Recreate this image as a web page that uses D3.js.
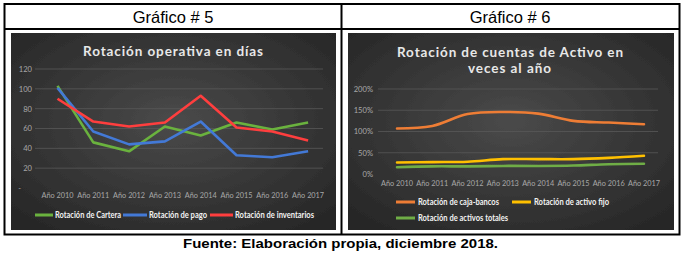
<!DOCTYPE html>
<html><head><meta charset="utf-8">
<script src="https://cdn.jsdelivr.net/npm/d3@7"></script>
<style>body{margin:0;background:#fff}svg{display:block}</style>
</head><body>
<script>
// ---- data ----
const years = ["Año 2010","Año 2011","Año 2012","Año 2013","Año 2014","Año 2015","Año 2016","Año 2017"];
const cartera     = [103, 46, 37, 62, 53, 66, 59, 66];
const pago        = [101, 57, 44, 47, 67, 33, 31, 37];
const inventarios = [ 90, 67, 62, 66, 93, 61, 57, 48];
const leftTicks   = [0, 20, 40, 60, 80, 100, 120];
const leftNames   = ["Rotación de Cartera", "Rotación de pago", "Rotación de inventarios"];

const cajaBancos     = [1.07, 1.13, 1.41, 1.46, 1.42, 1.25, 1.21, 1.17];
const activoFijo     = [0.27, 0.28, 0.29, 0.35, 0.35, 0.35, 0.38, 0.43];
const activosTotales = [0.16, 0.18, 0.18, 0.19, 0.19, 0.20, 0.23, 0.24];
const rightTicks     = [0, 0.5, 1, 1.5, 2];
const rightNames     = ["Rotación de caja-bancos", "Rotación de activo fijo", "Rotación de activos totales"];

const headers = ["Gráfico # 5", "Gráfico # 6"];
const footer = "Fuente: Elaboración propia, diciembre 2018.";

// ---- drawing ----
const W = 688, H = 253;
const svg = d3.select("body").append("svg").attr("width", W).attr("height", H);
const defs = svg.append("defs");
const rg = defs.append("radialGradient").attr("id","bg").attr("cx","50%").attr("cy","45%").attr("r","70%");
rg.append("stop").attr("offset","0%").attr("stop-color","#4a4a4a");
rg.append("stop").attr("offset","100%").attr("stop-color","#262626");
const flt = defs.append("filter").attr("id","noise").attr("x",0).attr("y",0).attr("width","100%").attr("height","100%");
flt.append("feTurbulence").attr("type","fractalNoise").attr("baseFrequency",0.9).attr("numOctaves",1).attr("seed",3).attr("result","n");
flt.append("feColorMatrix").attr("in","n").attr("type","matrix")
  .attr("values","0 0 0 0 0.5  0 0 0 0 0.5  0 0 0 0 0.5  0 0 0 0.18 0").attr("result","nc");
flt.append("feComposite").attr("in","nc").attr("in2","SourceGraphic").attr("operator","in").attr("result","nm");
flt.append("feBlend").attr("in","SourceGraphic").attr("in2","nm").attr("mode","normal");

const chartFont = "Lato, 'Open Sans', sans-serif";

// table
const tbl = svg.append("g").attr("fill","none").attr("stroke","#000").attr("stroke-width",2);
tbl.append("rect").attr("x",4.5).attr("y",4).attr("width",675).attr("height",230.5);
tbl.append("line").attr("x1",4.5).attr("x2",679.5).attr("y1",29).attr("y2",29);
tbl.append("line").attr("x1",341.5).attr("x2",341.5).attr("y1",4).attr("y2",234.5);
svg.selectAll("text.hdr").data(headers).join("text").attr("class","hdr")
  .attr("x",(d,i)=> i===0 ? 173 : 510).attr("y",23)
  .attr("text-anchor","middle").attr("font-family","'Liberation Sans', Arial, sans-serif")
  .attr("font-size",16.5).attr("fill","#000").text(d=>d);
svg.append("text").attr("x",183).attr("y",247.5)
  .attr("textLength",315).attr("lengthAdjust","spacingAndGlyphs")
  .attr("font-family","'Liberation Sans', Arial, sans-serif").attr("font-weight","bold")
  .attr("font-size",13.5).attr("fill","#000").text(footer);

function panel(x0, x1){
  svg.append("rect").attr("x",x0).attr("y",33).attr("width",x1-x0).attr("height",197)
    .attr("fill","url(#bg)").attr("filter","url(#noise)");
}
panel(11, 336);
panel(348, 674);

function styleXLabels(sel){
  sel.selectAll("text").attr("font-family",chartFont).attr("font-size",7.6).attr("fill","#a8a8a8")
    .attr("textLength",32).attr("lengthAdjust","spacingAndGlyphs");
}

// ----- left chart -----
{
  const g = svg.append("g");
  const x = d3.scaleBand().domain(years).range([39.6, 326]);
  const y = d3.scaleLinear().domain([0,120]).range([188, 69]);
  const cx = d => x(d) + x.bandwidth()/2;

  g.append("text").attr("x",83).attr("y",55.5).attr("textLength",180).attr("lengthAdjust","spacing")
    .attr("font-family",chartFont).attr("font-weight","bold").attr("font-size",13.5)
    .attr("fill","#e8e8e8").text("Rotación operativa en días");

  g.selectAll("line.grid").data(leftTicks.filter(t=>t>0)).join("line").attr("class","grid")
    .attr("x1",35).attr("x2",323).attr("y1",d=>y(d)).attr("y2",d=>y(d))
    .attr("stroke","#585858").attr("stroke-width",0.8);

  const ya = d3.axisLeft(y).tickValues(leftTicks).tickSize(0).tickPadding(0)
    .tickFormat(d => d===0 ? "-" : d);
  const yg = g.append("g").attr("transform","translate(32,0)").call(ya);
  yg.select(".domain").remove();
  yg.selectAll("text").attr("font-family",chartFont).attr("font-size",7.6).attr("fill","#a8a8a8")
    .attr("dx", d => d===0 ? -11 : 0);

  const xa = d3.axisBottom(x).tickSize(0).tickPadding(0);
  const xg = g.append("g").attr("transform","translate(0,193)").call(xa);
  xg.select(".domain").remove();
  styleXLabels(xg);

  const series = [
    {name:leftNames[0], vals:cartera, color:"#6ab23e"},
    {name:leftNames[1], vals:pago, color:"#4379d6"},
    {name:leftNames[2], vals:inventarios, color:"#ff3e3e"}
  ];
  const line = d3.line().x((d,i)=>cx(years[i])).y(d=>y(d));
  g.selectAll("path.s").data(series).join("path").attr("class","s")
    .attr("d",d=>line(d.vals)).attr("fill","none").attr("stroke",d=>d.color)
    .attr("stroke-width",2.6).attr("stroke-linejoin","round");

  const lx = [[35,53,55,66],[123,147,149,58],[210,233,235,79]];
  series.forEach((s,i)=>{
    const [a,b,t,w] = lx[i];
    g.append("line").attr("x1",a).attr("x2",b).attr("y1",215).attr("y2",215)
      .attr("stroke",s.color).attr("stroke-width",3);
    g.append("text").attr("x",t).attr("y",218).attr("textLength",w).attr("lengthAdjust","spacingAndGlyphs")
      .attr("font-family",chartFont).attr("font-weight","bold").attr("font-size",8.5)
      .attr("fill","#f2f2f2").text(s.name);
  });
}

// ----- right chart -----
{
  const g = svg.append("g");
  const x = d3.scaleBand().domain(years).range([379.4, 661.6]);
  const y = d3.scaleLinear().domain([0,2]).range([174, 89]);
  const cx = d => x(d) + x.bandwidth()/2;

  g.append("text").attr("x",397).attr("y",56.5).attr("textLength",226).attr("lengthAdjust","spacing")
    .attr("font-family",chartFont).attr("font-weight","bold").attr("font-size",13.5)
    .attr("fill","#e8e8e8").text("Rotación de cuentas de Activo en");
  g.append("text").attr("x",468).attr("y",73).attr("textLength",83).attr("lengthAdjust","spacing")
    .attr("font-family",chartFont).attr("font-weight","bold").attr("font-size",13.5)
    .attr("fill","#e8e8e8").text("veces al año");

  g.selectAll("line.grid").data(rightTicks.filter(t=>t>0)).join("line").attr("class","grid")
    .attr("x1",378).attr("x2",658).attr("y1",d=>y(d)).attr("y2",d=>y(d))
    .attr("stroke","#585858").attr("stroke-width",0.8);

  const ya = d3.axisLeft(y).tickValues(rightTicks).tickSize(0).tickPadding(0)
    .tickFormat(d3.format(".0%"));
  const yg = g.append("g").attr("transform","translate(373,0)").call(ya);
  yg.select(".domain").remove();
  yg.selectAll("text").attr("font-family",chartFont).attr("font-size",7.6).attr("fill","#a8a8a8");

  const xa = d3.axisBottom(x).tickSize(0).tickPadding(0);
  const xg = g.append("g").attr("transform","translate(0,181)").call(xa);
  xg.select(".domain").remove();
  styleXLabels(xg);

  const series = [
    {name:rightNames[0], vals:cajaBancos, color:"#ee7d35"},
    {name:rightNames[1], vals:activoFijo, color:"#ffc000"},
    {name:rightNames[2], vals:activosTotales, color:"#6fad46"}
  ];
  const line = d3.line().x((d,i)=>cx(years[i])).y(d=>y(d)).curve(d3.curveCatmullRom.alpha(0.5));
  g.selectAll("path.s").data(series).join("path").attr("class","s")
    .attr("d",d=>line(d.vals)).attr("fill","none").attr("stroke",d=>d.color)
    .attr("stroke-width",2.6).attr("stroke-linecap","round");

  const lx = [[396,415,418,202,81],[512,531,534,202,75],[396,415,418,218,90]];
  series.forEach((s,i)=>{
    const [a,b,t,yy,w] = lx[i];
    g.append("line").attr("x1",a).attr("x2",b).attr("y1",yy).attr("y2",yy)
      .attr("stroke",s.color).attr("stroke-width",3);
    g.append("text").attr("x",t).attr("y",yy+3).attr("textLength",w).attr("lengthAdjust","spacingAndGlyphs")
      .attr("font-family",chartFont).attr("font-weight","bold").attr("font-size",8.5)
      .attr("fill","#f2f2f2").text(s.name);
  });
}
</script>
</body></html>
